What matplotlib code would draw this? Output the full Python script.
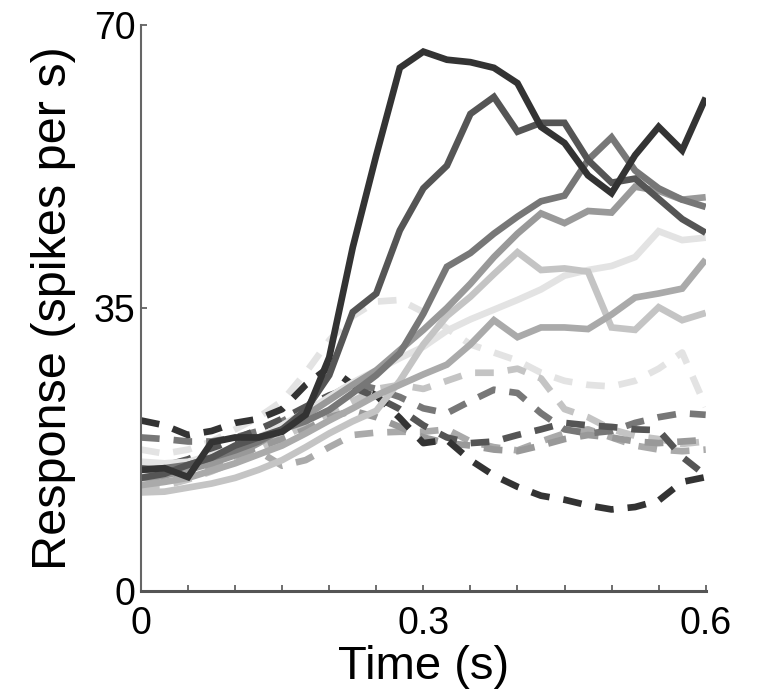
import matplotlib.pyplot as plt
import numpy as np

plt.rcParams['font.family'] = ['Liberation Sans', 'DejaVu Sans']

# time axis (s)
time = [0.0, 0.025, 0.05, 0.075, 0.1, 0.125, 0.15, 0.175, 0.2, 0.225, 0.25, 0.275,
        0.3, 0.325, 0.35, 0.375, 0.4, 0.425, 0.45, 0.475, 0.5, 0.525, 0.55, 0.575, 0.6]

# solid traces (dark -> light)
solid_colors = ['#333333', '#555555', '#777777', '#999999', '#aaaaaa', '#c4c4c4', '#e3e3e3']
solid_1 = [15.0, 15.2, 14.1, 18.4, 19.0, 19.0, 19.7, 21.8, 28.9, 42.5, 53.9, 64.7,
           66.7, 65.7, 65.4, 64.7, 62.8, 57.4, 55.4, 51.4, 49.2, 53.9, 57.4, 54.5, 61.0]
solid_2 = [14.0, 14.5, 15.6, 16.5, 18.0, 19.0, 20.0, 22.4, 26.7, 34.5, 36.8, 44.6,
           49.8, 52.6, 59.0, 61.1, 56.8, 57.9, 57.9, 53.3, 50.5, 51.0, 48.5, 46.0, 44.3]
solid_3 = [15.0, 15.2, 15.6, 16.5, 17.4, 18.5, 20.0, 21.0, 22.4, 24.5, 26.7, 29.4,
           34.3, 40.1, 41.8, 44.2, 46.3, 48.2, 48.9, 53.3, 56.1, 52.0, 49.8, 48.4, 47.5]
solid_4 = [14.0, 14.3, 15.0, 15.8, 16.8, 18.3, 20.0, 21.7, 23.6, 25.5, 27.3, 29.8,
           32.3, 35.0, 38.0, 41.3, 44.2, 46.7, 45.5, 47.0, 46.8, 50.0, 49.5, 48.4, 48.7]
solid_5 = [13.1, 13.5, 14.0, 14.9, 15.8, 16.9, 18.0, 19.5, 21.1, 22.6, 24.2, 25.5,
           26.8, 28.0, 30.5, 33.5, 31.4, 32.6, 32.6, 32.4, 34.2, 36.3, 36.8, 37.4, 41.0]
solid_6 = [12.2, 12.3, 12.8, 13.3, 14.0, 15.0, 16.2, 17.8, 19.5, 21.0, 22.3, 26.0,
           30.5, 34.0, 36.4, 39.2, 41.9, 39.7, 39.9, 39.5, 32.6, 32.3, 35.1, 33.5, 34.4]
solid_7 = [16.0, 15.8, 16.0, 16.8, 17.8, 19.0, 20.5, 22.2, 24.0, 25.8, 27.3, 28.8,
           30.2, 32.2, 33.6, 34.8, 36.0, 37.3, 39.0, 39.7, 40.2, 41.3, 44.5, 43.4, 43.7]

# dashed traces (dark -> light)
dashed_colors = ['#333333', '#555555', '#777777', '#999999', '#aaaaaa', '#c4c4c4', '#e3e3e3']
dashed_1 = [21.1, 20.5, 19.3, 19.8, 20.8, 21.3, 22.5, 25.5, 27.7, 25.5, 24.2, 21.4,
            18.3, 18.7, 16.2, 14.3, 12.9, 11.8, 11.3, 10.6, 10.1, 10.4, 11.2, 13.5, 14.1]
dashed_2 = [15.5, 15.5, 16.3, 17.5, 18.8, 20.0, 21.3, 22.8, 24.2, 25.2, 24.0, 22.5,
            20.5, 19.0, 18.3, 18.5, 19.3, 20.0, 20.8, 20.5, 20.3, 20.0, 19.9, 16.6, 14.3]
dashed_3 = [19.0, 18.8, 18.5, 18.5, 19.0, 19.8, 21.0, 22.5, 24.0, 25.7, 25.0, 24.0,
            22.6, 22.0, 23.5, 24.9, 24.5, 22.0, 20.0, 19.5, 19.8, 20.8, 21.5, 22.0, 21.8]
dashed_4 = [15.0, 14.8, 15.3, 16.0, 16.8, 17.8, 18.8, 20.0, 21.5, 22.3, 21.5, 20.3,
            19.0, 18.3, 18.0, 17.5, 17.3, 18.0, 18.8, 19.3, 19.0, 18.5, 18.3, 18.5, 18.7]
dashed_5 = [14.0, 14.0, 14.5, 15.5, 16.5, 17.3, 15.5, 16.2, 17.8, 19.3, 19.6, 19.7,
            19.7, 20.0, 18.5, 17.8, 17.4, 18.5, 19.5, 20.0, 19.0, 18.0, 17.5, 17.3, 17.5]
dashed_6 = [13.0, 13.0, 13.8, 14.8, 16.0, 17.5, 19.0, 20.5, 22.0, 23.5, 25.0, 25.5,
            25.0, 26.0, 27.0, 27.0, 27.5, 26.3, 22.5, 21.5, 20.0, 19.2, 18.8, 18.2, 18.5]
dashed_7 = [17.5, 17.0, 17.5, 18.5, 20.0, 21.5, 23.5, 27.0, 31.0, 34.0, 35.8, 36.0,
            34.5, 32.5, 30.5, 29.5, 28.5, 27.0, 26.0, 25.5, 25.3, 26.0, 27.5, 29.5, 22.8]

solid = [solid_1, solid_2, solid_3, solid_4, solid_5, solid_6, solid_7]
dashed = [dashed_1, dashed_2, dashed_3, dashed_4, dashed_5, dashed_6, dashed_7]

fig = plt.figure(figsize=(7.58, 6.93), dpi=100)
ax = fig.add_axes([0.186, 0.147, 0.745, 0.817])

lw = 4.8
# light first so the dark traces sit on top
for vals, c in zip(dashed[::-1], dashed_colors[::-1]):
    ax.plot(time, vals, color=c, lw=lw, dashes=(2.8, 2.1), dash_capstyle='butt')
for vals, c in zip(solid[::-1], solid_colors[::-1]):
    ax.plot(time, vals, color=c, lw=lw, solid_capstyle='butt', solid_joinstyle='miter')

ax.set_xlim(0, 0.6)
ax.set_ylim(0, 70)
ax.set_xticks([0, 0.3, 0.6])
ax.set_xticklabels(['0', '0.3', '0.6'])
ax.set_xticks(np.arange(0, 0.61, 0.05), minor=True)
ax.set_yticks([0, 35, 70])
ax.set_yticklabels(['0', '35', '70'])

for s in ['top', 'right']:
    ax.spines[s].set_visible(False)
ax.spines['left'].set_color('#666666')
ax.spines['left'].set_linewidth(1.5)
ax.spines['bottom'].set_color('#555555')
ax.spines['bottom'].set_linewidth(2.2)

ax.tick_params(which='both', direction='in', color='#555555', labelsize=27)
ax.tick_params(axis='x', pad=11)
ax.tick_params(axis='y', pad=4)
ax.tick_params(which='major', length=4, width=1.2)
ax.tick_params(which='minor', length=4, width=1.2)

ax.set_xlabel('Time (s)', fontsize=34)
ax.set_ylabel('Response (spikes per s)', fontsize=35)
ax.xaxis.set_label_coords(0.5, -0.095)
ax.yaxis.set_label_coords(-0.115, 0.5)

fig.savefig('out.png', dpi=100)
